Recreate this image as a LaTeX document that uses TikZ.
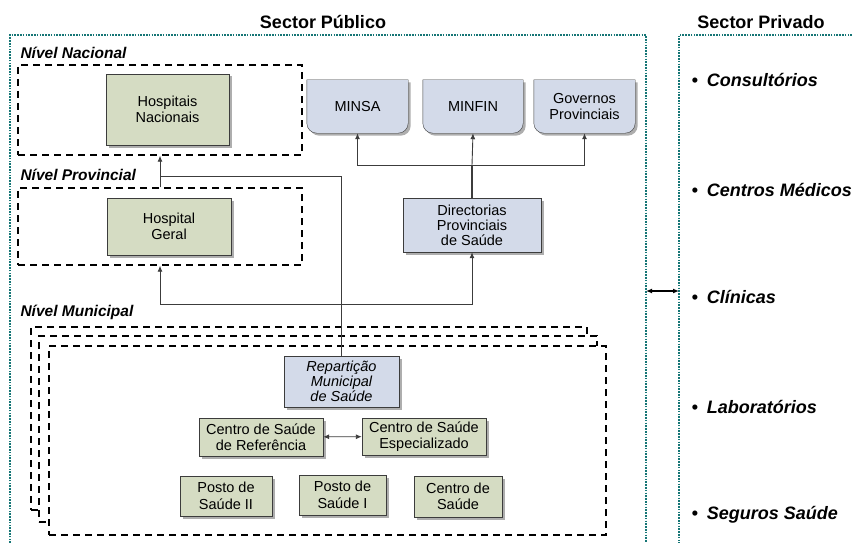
\documentclass[tikz,border=0pt]{standalone}
\usepackage{fontspec}
\setmainfont{Liberation Sans}
\usetikzlibrary{backgrounds,shadows,arrows.meta}
\definecolor{verde}{RGB}{213,220,195}
\definecolor{azul}{RGB}{211,218,233}
\definecolor{petroleo}{RGB}{22,118,118}
\definecolor{contorno}{RGB}{60,60,60}
\tikzset{
  sombra/.style={drop shadow={shadow xshift=2.5pt,shadow yshift=-2.5pt,fill=black!45,opacity=.7}},
  caixa/.style={draw=contorno,fill=verde,align=center,inner sep=0pt,sombra,font=\fontsize{14.5}{16.5}\selectfont},
  caixaazul/.style={caixa,fill=azul},
  cartaotexto/.style={align=center,inner sep=0pt,font=\fontsize{14.5}{16.5}\selectfont},
  cartaoestilo/.style={draw=contorno,fill=azul,sombra},
  nivel/.style={draw,line width=1.4pt,dash pattern=on 7pt off 5pt,inner sep=0pt},
  rotulo/.style={anchor=west,font=\fontsize{15.5}{17}\selectfont\bfseries\itshape},
  sector/.style={petroleo,line width=2.2pt,dash pattern=on 1.6pt off 1.2pt},
  privado/.style={anchor=west,font=\fontsize{18}{20}\selectfont\bfseries\itshape},
  liga/.style={contorno,line width=0.9pt}
}
\newcommand{\cartao}[1]{\draw[cartaoestilo] (#1.north west) -- (#1.north east) -- ([yshift=10pt]#1.south east) arc[start angle=0,end angle=-90,radius=10pt] -- ([xshift=10pt]#1.south west) arc[start angle=270,end angle=180,radius=10pt] -- cycle;}

\begin{document}
\begin{tikzpicture}[x=1pt,y=-1pt,>={Latex[length=6pt,width=5pt]}]
\useasboundingbox (0,0) rectangle (852,543);

\node[font=\fontsize{18}{20}\selectfont\bfseries] (tpub) at (323,22) {Sector Público};
\node[font=\fontsize{18}{20}\selectfont\bfseries] (tpriv) at (761,22) {Sector Privado};
\draw[sector] (10,543) -- (10,35) -- (646,35) -- (646,543);
\draw[sector] (852,35) -- (679,35) -- (679,543);
\coordinate (pubdir) at (646,291);
\coordinate (priesq) at (679,291);
\draw[<->,line width=1.6pt] (pubdir) -- (priesq);

\node[rotulo] (lnac) at (17,53) {Nível Nacional};
\node[rotulo] (lprov) at (17,175) {Nível Provincial};
\node[rotulo] (lmun) at (17,312) {Nível Municipal};

\node[nivel,minimum width=284pt,minimum height=90pt] (nacional) at (160,110) {};
\node[nivel,minimum width=284pt,minimum height=77pt] (provincial) at (160,226.5) {};
\node[nivel,fill=white,minimum width=556pt,minimum height=183pt] (mun1) at (309,418.5) {};
\node[nivel,fill=white,minimum width=558pt,minimum height=186pt] (mun2) at (318,429) {};
\node[nivel,fill=white,minimum width=557pt,minimum height=189pt] (mun3) at (327.5,440.5) {};

\node[caixa,minimum width=123pt,minimum height=71pt] (hospnac) at (167.5,109.5) {Hospitais\\Nacionais};
\node[caixa,minimum width=124pt,minimum height=57pt] (hospger) at (169,226.5) {Hospital\\Geral};

\node[cartaotexto,minimum width=101pt,minimum height=53pt] (minsa) at (357.5,106.5) {MINSA};
\node[cartaotexto,minimum width=100pt,minimum height=53pt] (minfin) at (473,106.5) {MINFIN};
\node[cartaotexto,minimum width=101pt,minimum height=53pt] (govprov) at (584.5,106.5) {Governos\\Provinciais};
\begin{scope}[on background layer]
\cartao{minsa}
\cartao{minfin}
\cartao{govprov}
\end{scope}

\node[caixaazul,minimum width=138pt,minimum height=54pt,font=\fontsize{14.5}{15}\selectfont] (dirprov) at (472,225) {Directorias\\Provinciais\\de Saúde};
\node[caixaazul,minimum width=115pt,minimum height=51pt,font=\fontsize{14.5}{15}\selectfont\itshape] (repmun) at (341.5,381.5) {Repartição\\Municipal\\de Saúde};
\node[caixa,minimum width=124pt,minimum height=38pt] (csref) at (261,437) {Centro de Saúde\\de Referência};
\node[caixa,minimum width=124pt,minimum height=37pt] (csesp) at (424,436.5) {Centro de Saúde\\Especializado};
\node[caixa,minimum width=92pt,minimum height=40pt] (posto2) at (226,496) {Posto de\\Saúde II};
\node[caixa,minimum width=87pt,minimum height=40pt] (posto1) at (342.5,495) {Posto de\\Saúde I};
\node[caixa,minimum width=88pt,minimum height=41pt] (csaude) at (458,496.5) {Centro de\\Saúde};

\coordinate (junmun) at (repmun.north |- 0,304);
\coordinate (junnac) at (repmun.north |- 0,176);
\coordinate (junmin) at (dirprov.north |- 0,165);
\draw[liga,->] (provincial.north) -- (nacional.south);
\draw[liga] (repmun.north) -- (junnac) -- (junnac -| nacional.south);
\draw[liga,->] (junmun) -| (provincial.south);
\draw[liga,->] (junmun) -| (dirprov.south);
\draw[liga,line width=2pt] (dirprov.north) -- (junmin);
\draw[liga,->] (junmin) -| (minsa.south);
\draw[liga,->] (junmin) -| (govprov.south);
\draw[liga,->] (junmin) -- (minfin.south);
\draw[liga,<->] (csref) -- (csesp);

\node[privado] (consult) at (688,80) {\textbullet\enspace Consultórios};
\node[privado] (cmedic) at (688,190) {\textbullet\enspace Centros Médicos};
\node[privado] (clinic) at (688,297) {\textbullet\enspace Clínicas};
\node[privado] (labor) at (688,407) {\textbullet\enspace Laboratórios};
\node[privado] (seguro) at (688,515) {\textbullet\enspace Seguros Saúde};
\end{tikzpicture}
\end{document}
